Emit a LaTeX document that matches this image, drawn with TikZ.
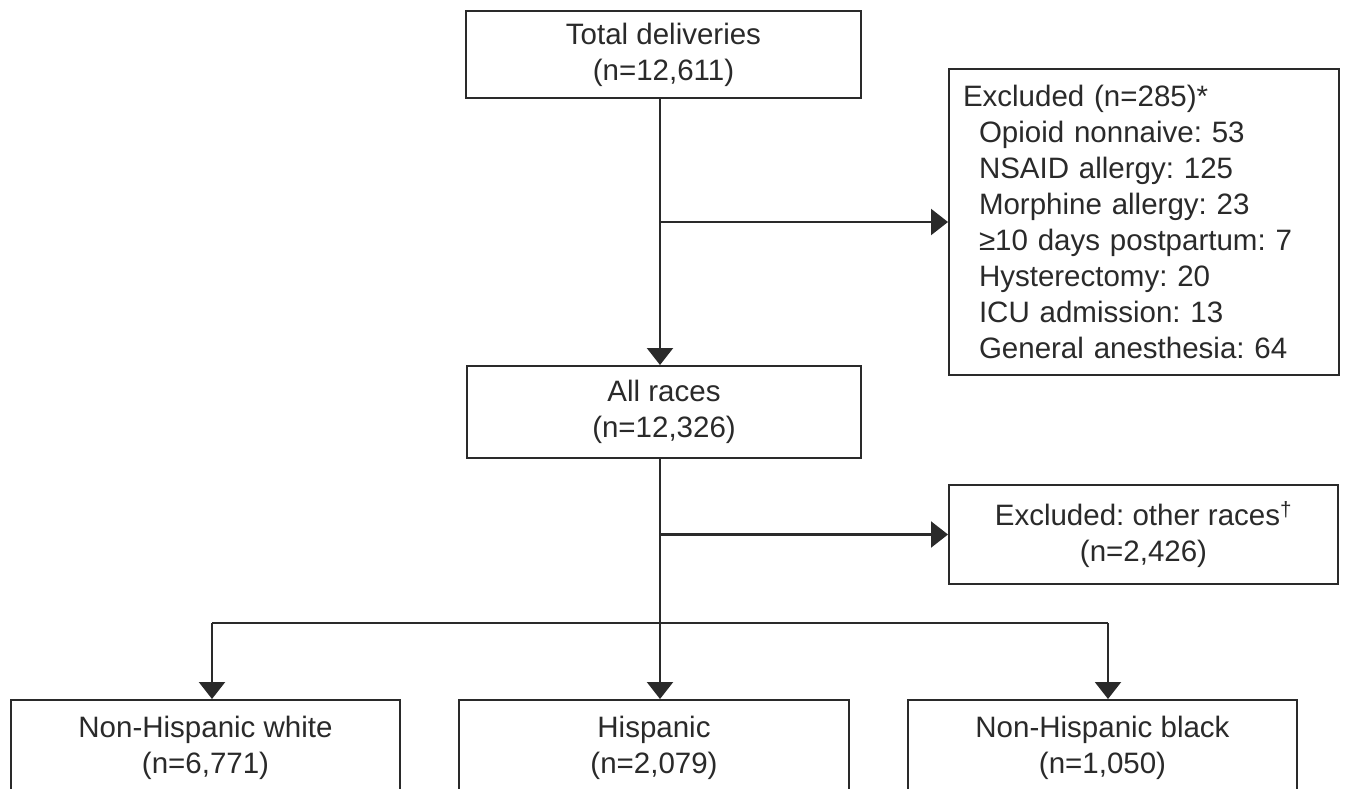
\documentclass[tikz,border=0pt]{standalone}
\usepackage{fontspec}
\setmainfont{Liberation Sans}
\frenchspacing
\usetikzlibrary{arrows.meta}
\definecolor{ink}{HTML}{2A2A2A}
\begin{document}
\begin{tikzpicture}[x=1pt,y=-1pt,
  box/.style={draw=ink,line width=2pt,rectangle,inner sep=0pt,align=center,
    text=ink,font=\fontsize{29.5}{36}\selectfont},
  conn/.style={draw=ink,line width=2.2pt},
  arr/.style={conn,-{Triangle[width=26pt,length=17pt]}}]
\useasboundingbox (0,0) rectangle (1345,788);
\fill[white] (0,0) rectangle (1345,788);
\coordinate (trunk) at (660,0);
\coordinate (wx) at (212,0);
\coordinate (bx) at (1108,0);
\coordinate (br) at (0,623);
\node[box,minimum width=395pt,minimum height=87pt] (total) at (663.5,54.5)
  {Total deliveries\\(n=12,611)};
\node[box,minimum width=394pt,minimum height=92pt] (allr) at (664,412)
  {All races\\(n=12,326)};
\node[box,anchor=west,align=left,text width=362pt,inner xsep=14pt,minimum height=306pt] (excl1) at (948,222)
  {Excluded (n=285)*\\
   \hspace*{16pt}Opioid nonnaive: 53\\
   \hspace*{16pt}NSAID allergy: 125\\
   \hspace*{16pt}Morphine allergy: 23\\
   \hspace*{16pt}≥10 days postpartum: 7\\
   \hspace*{16pt}Hysterectomy: 20\\
   \hspace*{16pt}ICU admission: 13\\
   \hspace*{16pt}General anesthesia: 64};
\node[box,minimum width=389pt,minimum height=99pt] (excl2) at (1143.5,534.5)
  {Excluded: other races\textsuperscript{†}\\(n=2,426)};
\node[box,minimum width=389pt,minimum height=96pt] (white) at (205.5,748)
  {Non-Hispanic white\\(n=6,771)};
\node[box,minimum width=390pt,minimum height=96pt] (hisp) at (654,748)
  {Hispanic\\(n=2,079)};
\node[box,minimum width=389pt,minimum height=96pt] (black) at (1102.5,748)
  {Non-Hispanic black\\(n=1,050)};
\draw[arr] (total.south -| trunk) -- (allr.north -| trunk);
\draw[arr] (excl1.west -| trunk) -- (excl1.west);
\draw[arr] (allr.south -| trunk) -- (hisp.north -| trunk);
\draw[arr] (excl2.west -| trunk) -- (excl2.west);
\draw[conn] (wx |- br) -- (bx |- br);
\draw[arr] (wx |- br) -- (white.north -| wx);
\draw[arr] (bx |- br) -- (black.north -| bx);
\end{tikzpicture}
\end{document}
